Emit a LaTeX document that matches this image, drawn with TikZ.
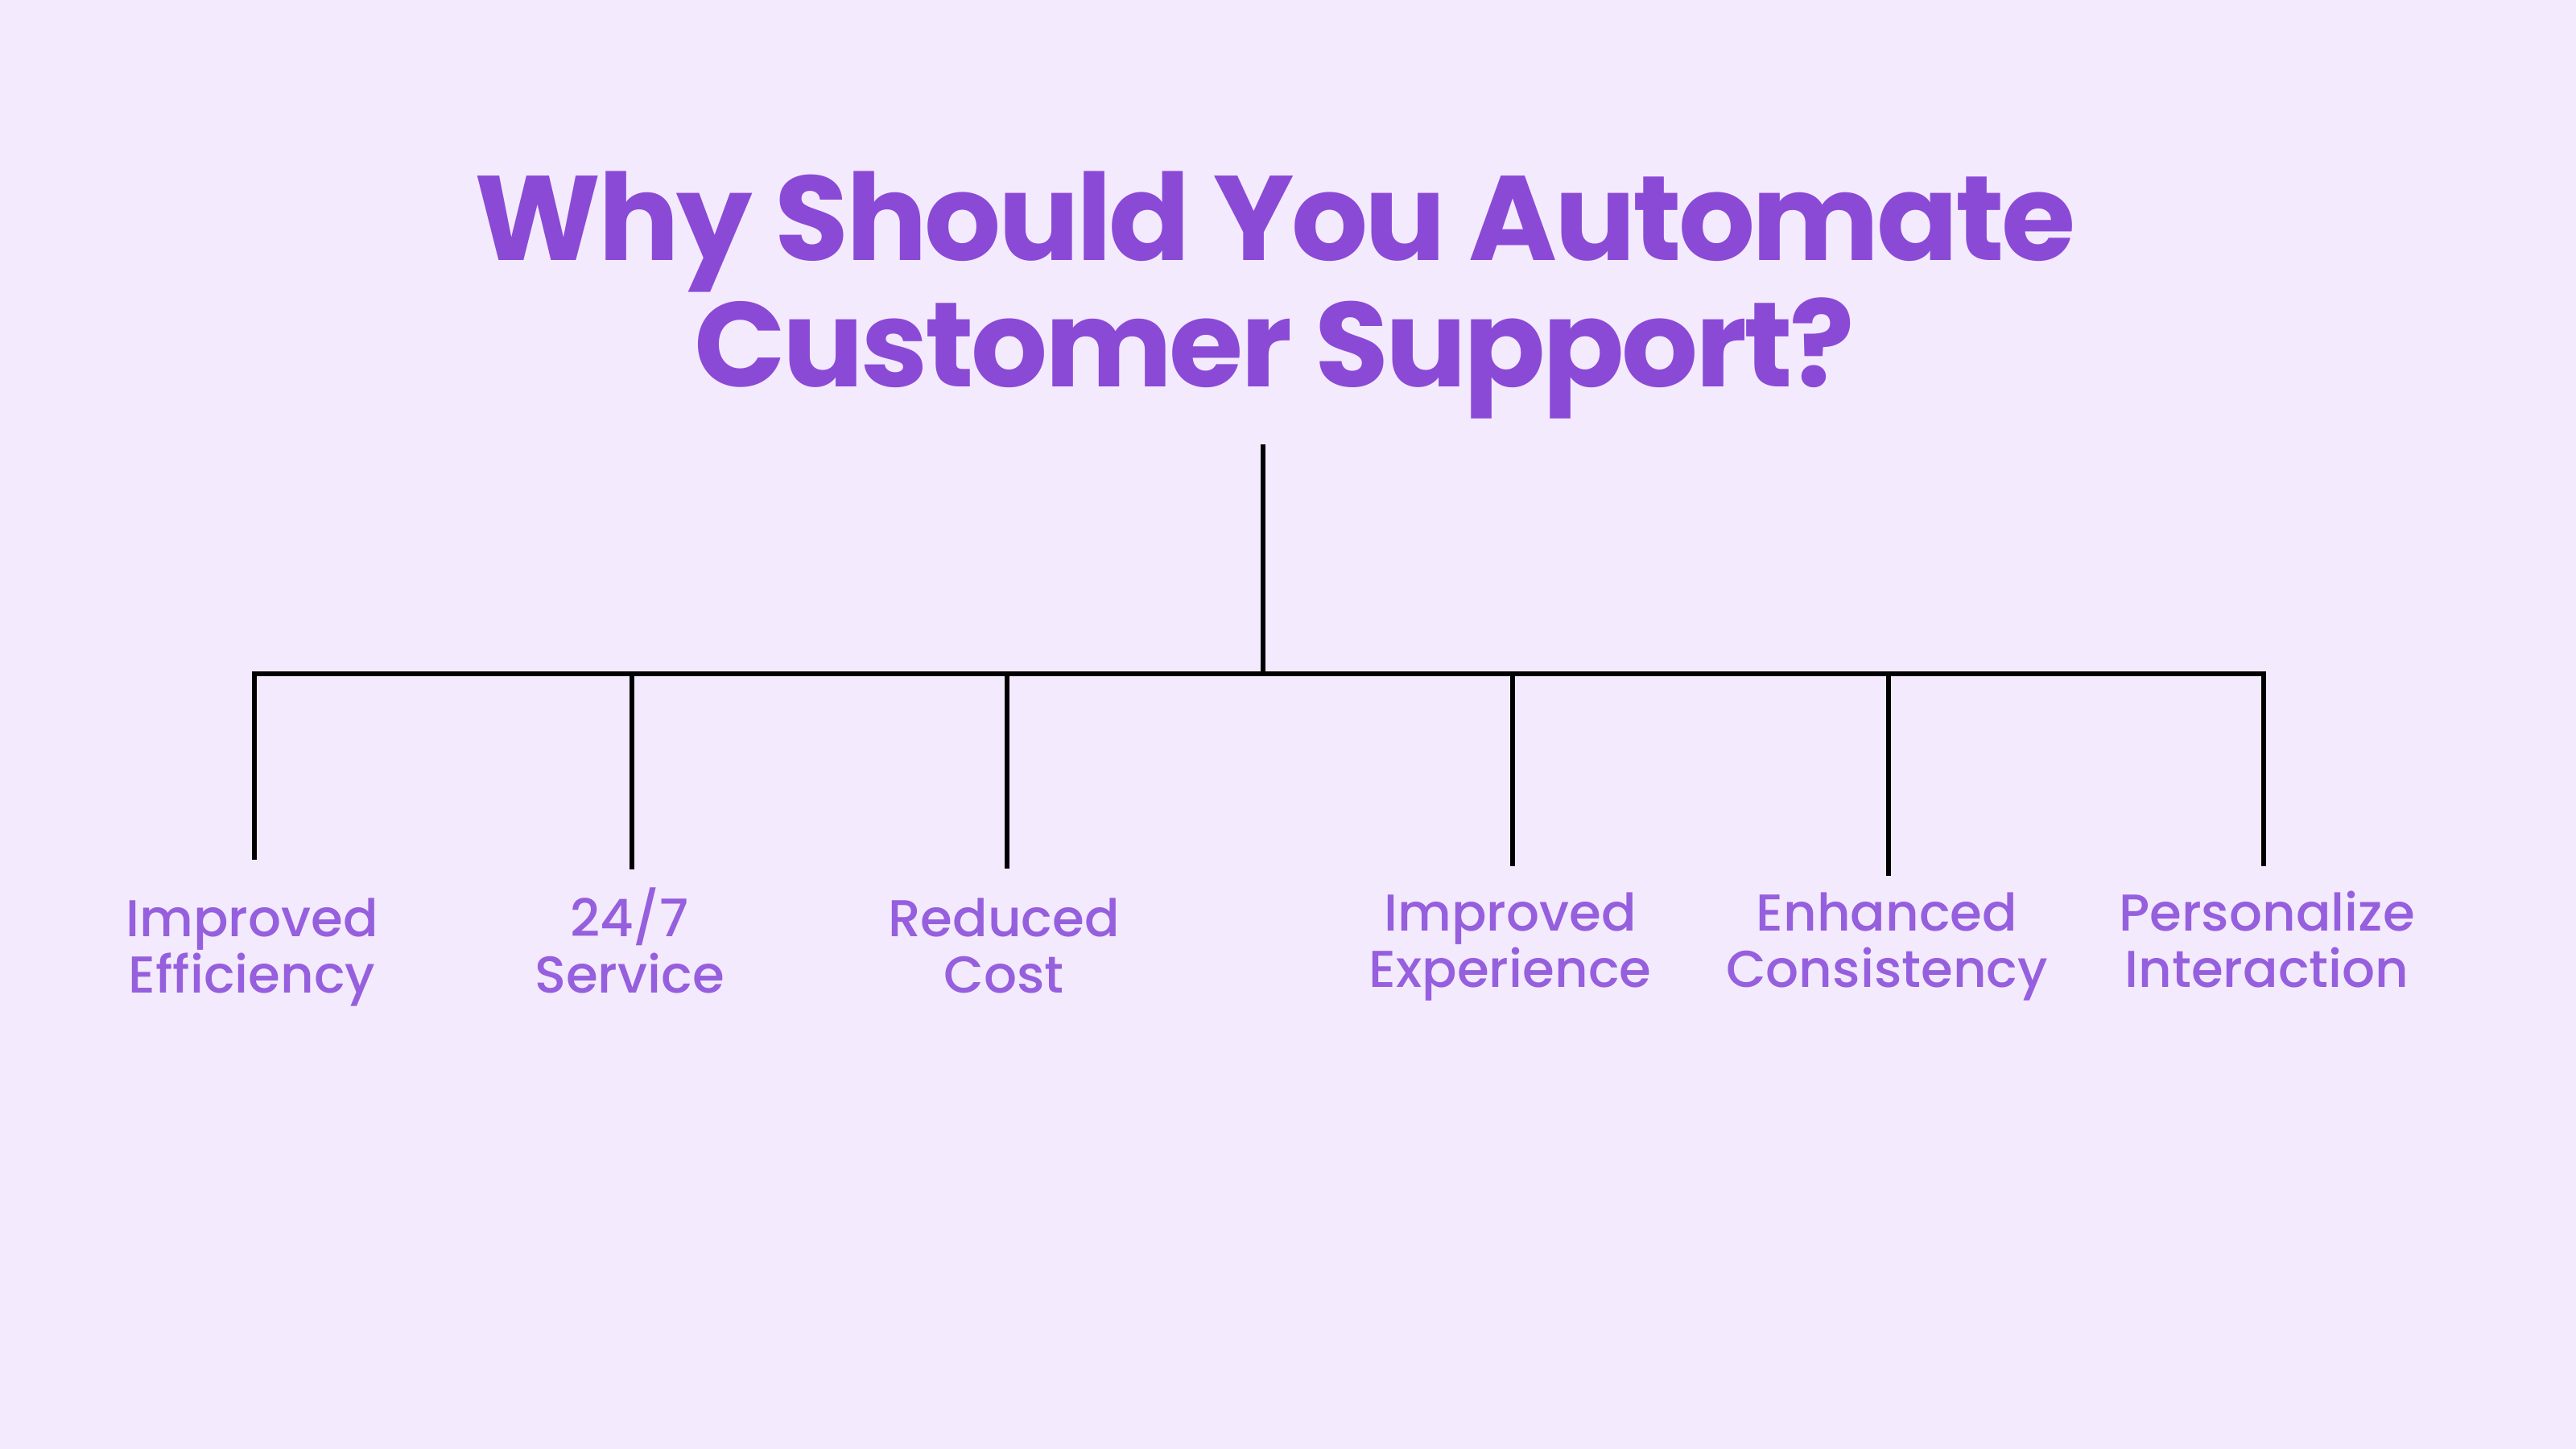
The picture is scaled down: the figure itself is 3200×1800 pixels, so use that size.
\documentclass[tikz,border=0pt]{standalone}
\usepackage{fontspec}
\setmainfont{Poppins}
\newfontfamily\titlefont{Poppins Bold}[LetterSpace=-2.4]
\newfontfamily\labelfont{Poppins Medium}
\definecolor{bgcol}{HTML}{F3EAFE}
\definecolor{titlecol}{HTML}{8A4AD6}
\definecolor{labelcol}{HTML}{965FDD}
\tikzset{
  titletext/.style={inner sep=0pt, anchor=base, text=titlecol, font=\titlefont\fontsize{42.5pt}{44.7pt}\selectfont},
  labeltext/.style={inner sep=0pt, anchor=base, align=center, text=labelcol, font=\labelfont\fontsize{18.3pt}{19.9pt}\selectfont},
  conn/.style={draw=black, line width=1.7pt}
}
\begin{document}
\begin{tikzpicture}[x=0.01cm, y=-0.01cm]
\fill[bgcol] (0,0) rectangle (3200,1800);
\useasboundingbox (0,0) rectangle (3200,1800);
% title
\node[titletext] (t1) at (1584,323) {Why Should You Automate};
\node[titletext] (t2) at (1583,480) {Customer Support?};
% tree skeleton
\coordinate (tt) at (1569,552);
\coordinate (hub) at (1569,837);
\coordinate (bl) at (316,837);
\coordinate (br) at (2812,837);
\draw[conn] (tt) -- (hub);
\draw[conn, line cap=rect] (bl) -- (br);
% labels (anchor = baseline of the second line)
\node[labeltext] (l1) at (313,1233) {Improved\\Efficiency};
\node[labeltext] (l2) at (782,1233) {24/7\\Service};
\node[labeltext] (l3) at (1247,1233) {Reduced\\Cost};
\node[labeltext] (l4) at (1876,1226) {Improved\\Experience};
\node[labeltext] (l5) at (2344,1226) {Enhanced\\Consistency};
\node[labeltext] (l6) at (2816,1226) {Personalize\\Interaction};
% drops
\coordinate (d1) at (316,1068);
\coordinate (d2) at (785,1080);
\coordinate (d3) at (1251,1079);
\coordinate (d4) at (1879,1076);
\coordinate (d5) at (2346,1088);
\coordinate (d6) at (2812,1076);
\draw[conn] (bl) -- (d1);
\draw[conn] (d2 |- bl) -- (d2);
\draw[conn] (d3 |- bl) -- (d3);
\draw[conn] (d4 |- bl) -- (d4);
\draw[conn] (d5 |- bl) -- (d5);
\draw[conn] (br) -- (d6);
\end{tikzpicture}
\end{document}
